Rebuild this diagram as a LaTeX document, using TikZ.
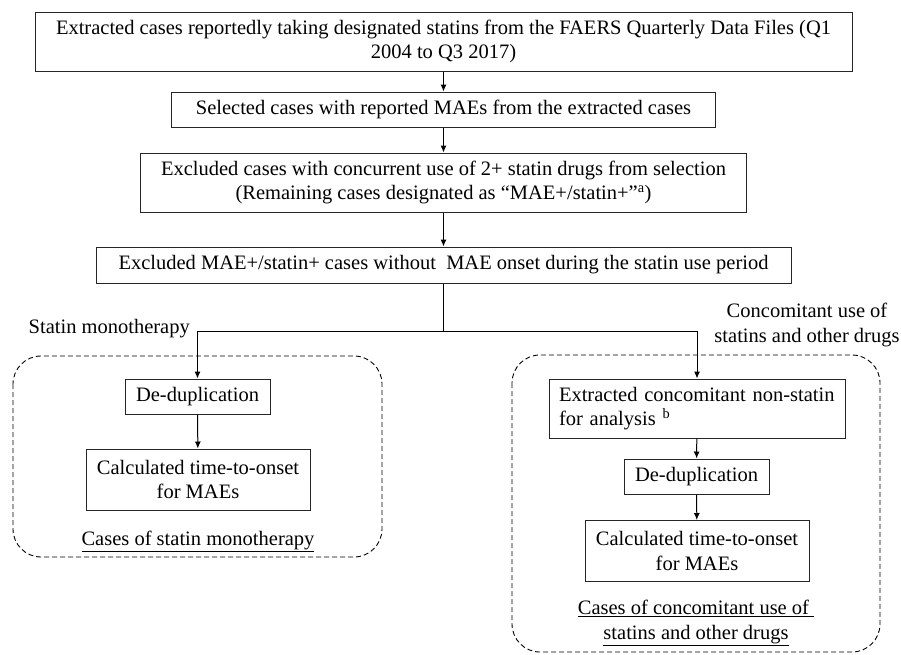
\documentclass[tikz,border=0pt]{standalone}
\usepackage{fontspec}
\setmainfont{Liberation Serif}
\usepackage{tikz}
\usetikzlibrary{arrows.meta,positioning}

\begin{document}
\begin{tikzpicture}[
	x = 1pt, y = -1pt,
	every node/.style = {font = \fontsize{20.5}{24.5}\selectfont},
	box/.style = {draw = black!85, line width = 1pt, inner sep = 0pt, align = center},
	lbl/.style = {inner sep = 0pt, align = center},
	group/.style = {draw = black, dashed, dash pattern = on 5pt off 3pt, rounded corners = 28pt, line width = 0.9pt},
	arr/.style = {-{Latex[length = 7pt, width = 6pt]}, line width = 1pt}
	]
	\useasboundingbox (0,0) rectangle (901,654);
	% main column
	\node[box, minimum width = 817pt, minimum height = 59pt] (extract) at (443.5,41.5)
		{Extracted cases reportedly taking designated statins from the FAERS Quarterly Data Files (Q1\\2004 to Q3 2017)};
	\node[box, minimum width = 544pt, minimum height = 35pt] (select) at (443.5,109.5)
		{Selected cases with reported MAEs from the extracted cases};
	\node[box, minimum width = 606pt, minimum height = 59pt] (exclude) at (443.5,182.5)
		{Excluded cases with concurrent use of 2+ statin drugs from selection\\(Remaining cases designated as “MAE+/statin+”\textsuperscript{a})};
	\node[box, minimum width = 695pt, minimum height = 36pt] (onset) at (443.5,265)
		{Excluded MAE+/statin+ cases without\ \ MAE onset during the statin use period};
	\coordinate (split) at (443.5,331);
	% statin monotherapy
	\node[box, minimum width = 145pt, minimum height = 35pt] (dedupL) at (197.5,396.5) {De-duplication};
	\node[box, minimum width = 224pt, minimum height = 61pt] (calcL) at (198,479.5)
		{Calculated time-to-onset\\for MAEs};
	% concomitant use
	\node[box, minimum width = 296pt, minimum height = 59pt, text width = 276pt, align = left] (concom) at (697,408.5)
		{Extracted concomitant non-statin\\for analysis \textsuperscript{b}};
	\node[box, minimum width = 145pt, minimum height = 35pt] (dedupR) at (696.5,476.5) {De-duplication};
	\node[box, minimum width = 224pt, minimum height = 61pt] (calcR) at (697,551)
		{Calculated time-to-onset\\for MAEs};
	% labels
	\node[lbl, anchor = east] (mono) at (190,329) {Statin monotherapy};
	\node[lbl] (concomlbl) at (807,325) {Concomitant use of\\statins and other drugs};
	\node[lbl] (casesL) at (198,541) {\underline{Cases of statin monotherapy}};
	\node[lbl] (casesR) at (696,623) {\underline{Cases of concomitant use of\ }\\\underline{statins and other drugs}};
	% dashed groups
	\draw[group] (13,356) rectangle (382,557);
	\draw[group] (512,355) rectangle (880,652);
	% connectors
	\draw[arr] (extract) -- (select);
	\draw[arr] (select) -- (exclude);
	\draw[arr] (exclude) -- (onset);
	\draw[line width = 1pt] (onset) -- (split);
	\draw[arr] (split) -| (dedupL);
	\draw[arr] (split) -| (concom);
	\draw[arr] (dedupL) -- (calcL);
	\draw[arr] (concom) -- (dedupR);
	\draw[arr] (dedupR) -- (calcR);
\end{tikzpicture}
\end{document}
